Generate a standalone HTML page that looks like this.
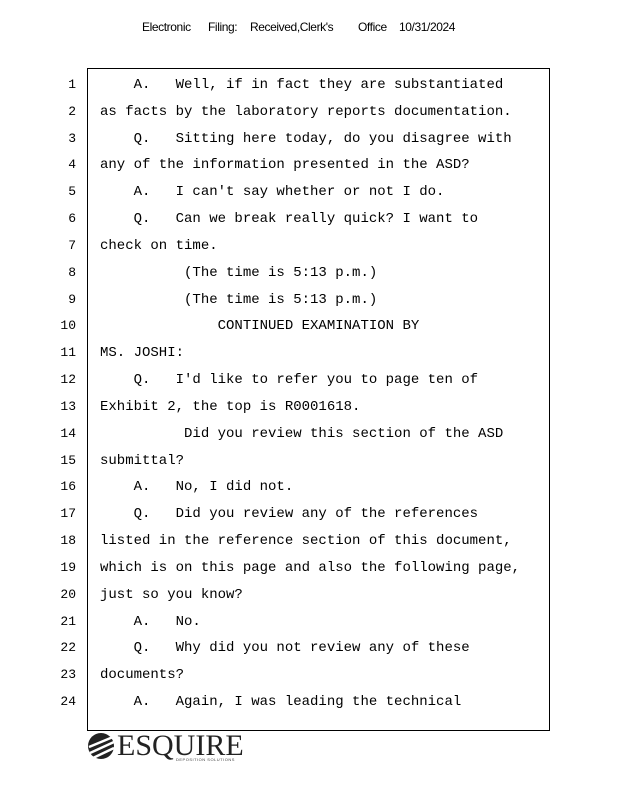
<!DOCTYPE html>
<html><head><meta charset="utf-8"><style>
body{margin:0;width:618px;height:800px;background:#fff;position:relative;overflow:hidden;font-family:"Liberation Mono",monospace;color:#000}
.h{position:absolute;top:20px;font-family:"Liberation Sans",sans-serif;font-size:12px;letter-spacing:-0.4px}
.box{position:absolute;left:87px;top:68px;width:461px;height:661px;border:1px solid #000}
.n{position:absolute;width:20px;left:56px;text-align:right;font-size:13px;line-height:16px}
.t{position:absolute;left:100px;font-size:14px;line-height:16px;white-space:pre}
</style></head><body>
<div class="h" style="left:142px">Electronic</div>
<div class="h" style="left:208px">Filing:</div>
<div class="h" style="left:250px">Received,Clerk's</div>
<div class="h" style="left:358px">Office</div>
<div class="h" style="left:399px">10/31/2024</div>
<div class="box"></div>
<div id="c"></div>
<script>
var L=["    A.   Well, if in fact they are substantiated",
"as facts by the laboratory reports documentation.",
"    Q.   Sitting here today, do you disagree with",
"any of the information presented in the ASD?",
"    A.   I can't say whether or not I do.",
"    Q.   Can we break really quick? I want to",
"check on time.",
"          (The time is 5:13 p.m.)",
"          (The time is 5:13 p.m.)",
"              CONTINUED EXAMINATION BY",
"MS. JOSHI:",
"    Q.   I'd like to refer you to page ten of",
"Exhibit 2, the top is R0001618.",
"          Did you review this section of the ASD",
"submittal?",
"    A.   No, I did not.",
"    Q.   Did you review any of the references",
"listed in the reference section of this document,",
"which is on this page and also the following page,",
"just so you know?",
"    A.   No.",
"    Q.   Why did you not review any of these",
"documents?",
"    A.   Again, I was leading the technical"];
var h="";
for(var i=0;i<24;i++){var y=77+i*26.83;
h+='<div class="n" style="top:'+y+'px">'+(i+1)+'</div><div class="t" style="top:'+y+'px">'+L[i].replace(/&/g,'&amp;').replace(/</g,'&lt;')+'</div>';}
document.getElementById('c').innerHTML=h;
</script>
<svg style="position:absolute;left:86px;top:731px" width="30" height="30" viewBox="0 0 30 30">
<circle cx="15" cy="15" r="13" fill="#222"/>
<path d="M3 16 L27 6 M4 22 L28 11 M7 27 L28 17" stroke="#fff" stroke-width="2.5"/>
</svg>
<div style="position:absolute;left:117px;top:730px;font-family:'Liberation Serif',serif;font-size:30px;line-height:32px;color:#222;letter-spacing:0px">ESQUIRE</div>
<div style="position:absolute;left:176px;top:757px;font-family:'Liberation Sans',sans-serif;font-size:4px;color:#444;letter-spacing:0.5px">DEPOSITION SOLUTIONS</div>
</body></html>
